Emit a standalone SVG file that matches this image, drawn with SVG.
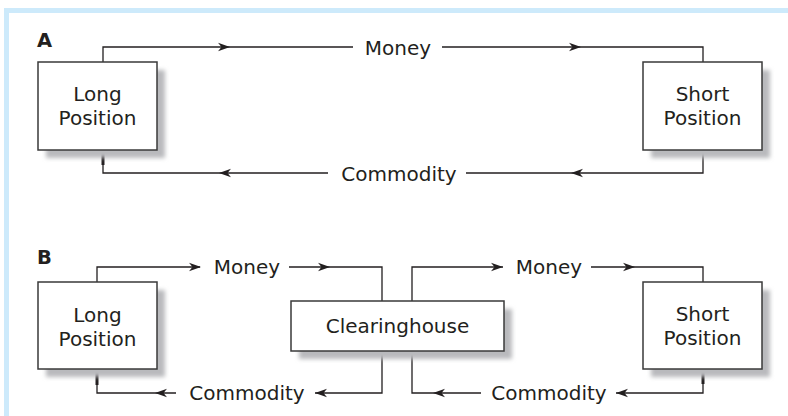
<svg xmlns="http://www.w3.org/2000/svg" width="788" height="416" viewBox="0 0 788 416">
<style>
.bg{fill:#ffffff}
.frame{fill:#cdeafb}
.box{fill:#ffffff;stroke:#3a3a3a;stroke-width:1.5}
.shadow{fill:#b9babd;filter:url(#blur)}
.lbl{font-family:"DejaVu Sans",sans-serif;font-size:20px;fill:#231f20;text-anchor:middle}
.panel{font-family:"DejaVu Sans",sans-serif;font-size:19.5px;font-weight:bold;fill:#231f20}
.ln{fill:none;stroke:#231f20;stroke-width:1.3}
.thick{stroke:#231f20;stroke-width:3}
.ah{fill:#231f20}
</style>
<defs>
<filter id="blur" x="-20%" y="-20%" width="140%" height="140%"><feGaussianBlur stdDeviation="2"/></filter>
<path id="ar" d="M0,0 L-12,-4.2 L-8.5,0 L-12,4.2 Z"/>
</defs>
<rect class="bg" x="0" y="0" width="788" height="416"/>
<rect class="frame" x="4" y="8" width="784" height="5"/>
<rect class="frame" x="4" y="8" width="5" height="408"/>

<text class="panel" x="37" y="47">A</text>
<text class="panel" x="37" y="264">B</text>

<g id="connectors">
  <!-- Panel A -->
  <path class="ln" d="M103,62 V47 H353"/>
  <path class="ln" d="M442,47 H703 V62"/>
  <path class="ln" d="M103,150 V173 H328"/>
  <path class="ln" d="M466,173 H703 V150"/>
  <line class="thick" x1="103" y1="150" x2="103" y2="165"/>
  <use href="#ar" class="ah" transform="translate(230,47)"/>
  <use href="#ar" class="ah" transform="translate(581,47)"/>
  <use href="#ar" class="ah" transform="translate(219,173) rotate(180)"/>
  <use href="#ar" class="ah" transform="translate(571,173) rotate(180)"/>
  <!-- Panel B -->
  <path class="ln" d="M97,282 V267 H200"/>
  <path class="ln" d="M289,267 H382 V301"/>
  <path class="ln" d="M412,301 V267 H503"/>
  <path class="ln" d="M591,267 H703 V282"/>
  <path class="ln" d="M97,369 V393 H176"/>
  <path class="ln" d="M315,393 H382 V351"/>
  <path class="ln" d="M412,351 V393 H481"/>
  <path class="ln" d="M616,393 H703 V369"/>
  <line class="thick" x1="97" y1="369" x2="97" y2="385"/>
  <line class="thick" x1="703" y1="369" x2="703" y2="384"/>
  <use href="#ar" class="ah" transform="translate(201,267)"/>
  <use href="#ar" class="ah" transform="translate(330,267)"/>
  <use href="#ar" class="ah" transform="translate(503,267)"/>
  <use href="#ar" class="ah" transform="translate(635,267)"/>
  <use href="#ar" class="ah" transform="translate(155,393) rotate(180)"/>
  <use href="#ar" class="ah" transform="translate(315,393) rotate(180)"/>
  <use href="#ar" class="ah" transform="translate(433,393) rotate(180)"/>
  <use href="#ar" class="ah" transform="translate(616,393) rotate(180)"/>
  <text class="lbl" x="398" y="55">Money</text>
  <text class="lbl" x="399" y="181">Commodity</text>
  <text class="lbl" x="247" y="274">Money</text>
  <text class="lbl" x="549" y="274">Money</text>
  <text class="lbl" x="247" y="400">Commodity</text>
  <text class="lbl" x="549" y="400">Commodity</text>
</g>

<g id="longA">
  <rect class="shadow" x="46" y="70" width="119" height="88"/>
  <rect class="box" x="38" y="62" width="119" height="88"/>
  <text class="lbl" x="97.5" y="101">Long</text>
  <text class="lbl" x="97.5" y="125">Position</text>
</g>
<g id="shortA">
  <rect class="shadow" x="651" y="70" width="119" height="88"/>
  <rect class="box" x="643" y="62" width="119" height="88"/>
  <text class="lbl" x="702.5" y="101">Short</text>
  <text class="lbl" x="702.5" y="125">Position</text>
</g>
<g id="longB">
  <rect class="shadow" x="46" y="290" width="119" height="87"/>
  <rect class="box" x="38" y="282" width="119" height="87"/>
  <text class="lbl" x="97.5" y="321.5">Long</text>
  <text class="lbl" x="97.5" y="345.5">Position</text>
</g>
<g id="clearinghouse">
  <rect class="shadow" x="299" y="309" width="213" height="50"/>
  <rect class="box" x="291" y="301" width="213" height="50"/>
  <text class="lbl" x="397.5" y="333">Clearinghouse</text>
</g>
<g id="shortB">
  <rect class="shadow" x="651" y="290" width="119" height="87"/>
  <rect class="box" x="643" y="282" width="119" height="87"/>
  <text class="lbl" x="702.5" y="321">Short</text>
  <text class="lbl" x="702.5" y="345">Position</text>
</g>
</svg>
